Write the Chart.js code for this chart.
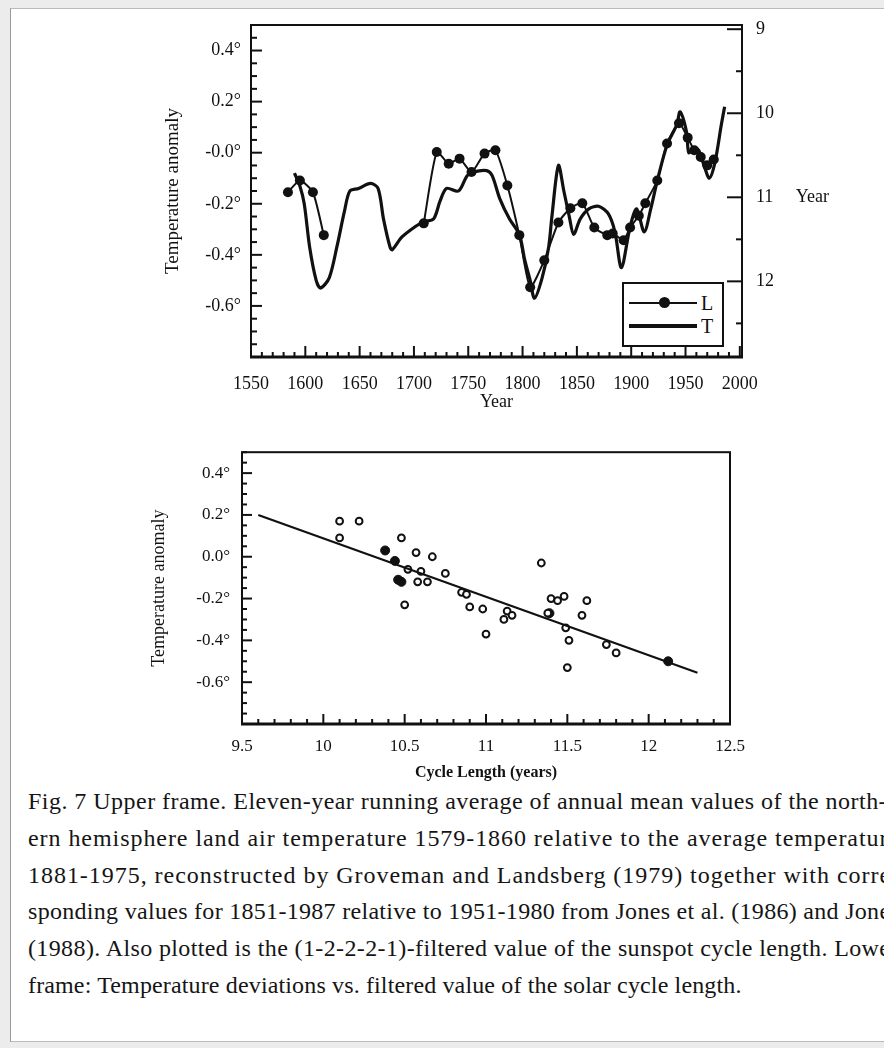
<!DOCTYPE html>
<html><head><meta charset="utf-8">
<script src="https://cdn.jsdelivr.net/npm/chart.js@4.4.0/dist/chart.umd.min.js"></script>
<style>
html,body{margin:0;padding:0;width:884px;height:1048px;overflow:hidden;background:#ececec;}
#page{position:absolute;left:10px;top:8px;width:880px;height:1032px;background:#fff;border-left:1px solid #999;border-top:1px solid #bbb;border-bottom:1px solid #bbb;}
#wrap{position:absolute;left:0;top:0;width:884px;height:1048px;overflow:hidden;}
#c1{position:absolute;left:0;top:0;}
#c2{position:absolute;left:0;top:430px;}
#legend{position:absolute;left:622px;top:282px;width:98px;height:61px;border:2px solid #111;background:#fff;}
.lg-line{position:absolute;background:#111;}
.lg-dot{position:absolute;width:11px;height:11px;border-radius:50%;background:#111;}
.lg-txt{position:absolute;font-family:"Liberation Serif",serif;font-size:20px;color:#111;line-height:20px;}
.capline{position:absolute;left:28px;font-family:"Liberation Serif",serif;font-size:24px;line-height:26px;color:#151515;white-space:nowrap;transform-origin:0 50%;}
</style></head>
<body>
<div id="page"></div>
<div id="wrap">
<canvas id="c1" width="884" height="416"></canvas>
<canvas id="c2" width="884" height="356"></canvas>
<div id="legend">
  <div class="lg-line" style="left:5px;top:18px;width:68px;height:2px;"></div>
  <div class="lg-dot" style="left:35px;top:13px;"></div>
  <div class="lg-txt" style="left:77px;top:9px;">L</div>
  <div class="lg-line" style="left:5px;top:40px;width:68px;height:4px;"></div>
  <div class="lg-txt" style="left:77px;top:32px;">T</div>
</div>
<div id="caption"></div>
</div>
<script>
// ---------- Upper frame data ----------
const tempYears = [1590,1595,1599,1604,1610,1614,1622,1629,1636,1641,1649,1660,1667,1672,1678,1680,1689,1701,1709,1718,1724,1730,1741,1749,1755,1767,1772,1779,1788,1797,1802,1807,1811,1818,1824,1827,1833,1838,1843,1847,1853,1861,1870,1879,1885,1891,1899,1905,1912,1918,1924,1933,1942,1945,1951,1953,1958,1962,1967,1972,1977,1983,1986];
const tempValues = [-0.08,-0.13,-0.20,-0.37,-0.50,-0.53,-0.49,-0.37,-0.23,-0.15,-0.14,-0.12,-0.14,-0.26,-0.37,-0.38,-0.33,-0.29,-0.27,-0.26,-0.19,-0.14,-0.15,-0.09,-0.075,-0.07,-0.09,-0.18,-0.26,-0.32,-0.42,-0.50,-0.57,-0.49,-0.37,-0.25,-0.05,-0.15,-0.25,-0.32,-0.26,-0.22,-0.21,-0.24,-0.31,-0.45,-0.29,-0.22,-0.31,-0.22,-0.11,0.03,0.11,0.16,0.08,0.0,0.02,0.01,-0.05,-0.10,-0.04,0.11,0.18];
const cycleYears = [1584,1595,1607,1617,1660,1709,1721,1732,1742,1753,1765,1775,1786,1797,1807,1820,1833,1844,1855,1866,1878,1883,1893,1899,1907,1913,1924,1933,1944,1952,1958,1964,1970,1976];
const cycleValues = [10.94,10.80,10.94,11.45,null,11.31,10.46,10.60,10.54,10.70,10.48,10.44,10.86,11.45,12.07,11.75,11.30,11.13,11.07,11.36,11.45,11.43,11.51,11.36,11.22,11.07,10.80,10.36,10.12,10.29,10.44,10.52,10.62,10.55];
const yearTicks = [1550,1600,1650,1700,1750,1800,1850,1900,1950,2000];
const upperTempTicks = [0.4,0.2,0.0,-0.2,-0.4,-0.6];
const upperTempLabels = ['0.4°','0.2°','-0.0°','-0.2°','-0.4°','-0.6°'];
const cycleTicks = [9,10,11,12];
const cycleTickLabels = ['9','10','11     Year','12'];

// ---------- Lower frame data ----------
const openLength = [10.10,10.22,10.10,10.48,10.57,10.67,10.52,10.60,10.58,10.64,10.75,10.85,10.88,10.50,10.90,10.98,11.13,11.16,11.11,11.00,11.34,11.40,11.44,11.48,11.62,11.59,11.49,11.51,11.50,11.74,11.80,11.38];
const openTemp   = [0.17,0.17,0.09,0.09,0.02,0.00,-0.06,-0.07,-0.12,-0.12,-0.08,-0.17,-0.18,-0.23,-0.24,-0.25,-0.26,-0.28,-0.30,-0.37,-0.03,-0.20,-0.21,-0.19,-0.21,-0.28,-0.34,-0.40,-0.53,-0.42,-0.46,-0.27];
const filledLength = [10.38,10.44,10.46,10.48,11.39,12.12];
const filledTemp   = [0.03,-0.02,-0.11,-0.12,-0.27,-0.50];
const fitLength = [9.6,12.3];
const fitTemp = [0.20,-0.555];
const lengthTicks = [9.5,10,10.5,11,11.5,12,12.5];
const lengthTickLabels = ['9.5','10','10.5','11','11.5','12','12.5'];
const lowerTempTicks = [0.4,0.2,0.0,-0.2,-0.4,-0.6];
const lowerTempLabels = ['0.4°','0.2°','0.0°','-0.2°','-0.4°','-0.6°'];

const captionLines = [
 'Fig.  7  Upper frame. Eleven-year running average of annual mean values of the north-',
 'ern hemisphere land air temperature 1579-1860 relative to the average temperature',
 '1881-1975, reconstructed by Groveman and Landsberg (1979) together with corre-',
 'sponding values for 1851-1987 relative to 1951-1980 from Jones et al. (1986) and Jones',
 '(1988). Also plotted is the (1-2-2-2-1)-filtered value of the sunspot cycle length. Lower',
 'frame: Temperature deviations vs. filtered value of the solar cycle length.'
];

function range(a,b,step){const r=[];for(let v=a;v<=b+1e-9;v+=step){r.push(Math.round(v*1000)/1000);}return r;}

// plugin: frame + inward tick marks
const innerTicks = {
  id:'innerTicks',
  afterDraw(chart, args, opts){
    const {ctx, chartArea:a} = chart;
    ctx.save();
    ctx.strokeStyle = '#111';
    ctx.lineWidth = 2;
    ctx.strokeRect(a.left, a.top, a.right-a.left, a.bottom-a.top);
    ctx.lineWidth = 3;
    ctx.beginPath(); ctx.moveTo(a.left-1, a.bottom); ctx.lineTo(a.right+1, a.bottom); ctx.stroke();
    for (const spec of (opts.specs||[])){
      const s = chart.scales[spec.id];
      ctx.lineWidth = spec.width || 2;
      const groups = [[spec.minor, spec.minorLen],[spec.major, spec.majorLen]];
      for (const [vals,len] of groups){
        for (const v of vals){
          const p = s.getPixelForValue(v);
          ctx.beginPath();
          if (spec.side==='left'){ctx.moveTo(a.left,p);ctx.lineTo(a.left+len,p);}
          else if (spec.side==='right'){ctx.moveTo(a.right,p);ctx.lineTo(a.right-len,p);}
          else {ctx.moveTo(p,a.bottom);ctx.lineTo(p,a.bottom-len);}
          ctx.stroke();
        }
      }
    }
    ctx.restore();
  }
};

const serif = "'Liberation Serif', serif";
const noGrid = {display:true, drawOnChartArea:false, drawTicks:false};

new Chart(document.getElementById('c1'), {
  type:'line',
  data:{
    datasets:[
      {label:'T', data: tempYears.map((x,i)=>({x, y: tempValues[i]})), yAxisID:'y',
       borderColor:'#111', borderWidth:3.2, pointRadius:0, tension:0.3, fill:false},
      {label:'L', data: cycleYears.map((x,i)=>({x, y: cycleValues[i]})), yAxisID:'yR',
       borderColor:'#111', borderWidth:2, pointRadius:5, pointBackgroundColor:'#111', pointBorderWidth:0,
       tension:0.2, spanGaps:false, fill:false}
    ]
  },
  options:{
    responsive:false, animation:false, events:[],
    layout:{padding:{left:158, right:0, top:25, bottom:0}},
    plugins:{legend:{display:false}, tooltip:{enabled:false},
      innerTicks:{specs:[
        {id:'x', side:'bottom', minor: range(1560,2000,10).filter(v=>v%50!==0), minorLen:5, major: yearTicks, majorLen:11},
        {id:'y', side:'left', minor: range(-0.8,0.5,0.05).filter(v=>Math.abs((v*10)%2)>0.01), minorLen:6, major: upperTempTicks, majorLen:11},
        {id:'yR', side:'right', minor: [9.5,10.5,11.5,12.5], minorLen:6, major: cycleTicks, majorLen:15}
      ]}},
    scales:{
      x:{type:'linear', position:'bottom', min:1550, max:2002,
         afterBuildTicks:s=>{s.ticks = yearTicks.map(v=>({value:v}));},
         afterFit:s=>{s.height=59;},
         grid:noGrid, border:{display:false},
         ticks:{padding:16, color:'#111', font:{family:serif, size:18}, maxRotation:0, autoSkip:false, callback:v=>String(v)},
         title:{display:true, text:'Year', color:'#111', font:{family:serif, size:18}, padding:{top:0,bottom:3}}},
      y:{type:'linear', position:'left', min:-0.8, max:0.5,
         afterBuildTicks:s=>{s.ticks = upperTempTicks.map(v=>({value:v}));},
         afterFit:s=>{s.width=93;},
         grid:noGrid, border:{display:false},
         ticks:{padding:10, color:'#111', font:{family:serif, size:18}, autoSkip:false,
                callback:(v)=>upperTempLabels[upperTempTicks.findIndex(t=>Math.abs(t-v)<1e-6)]},
         title:{display:true, text:'Temperature anomaly', color:'#111', font:{family:serif, size:19}, padding:{top:4,bottom:0}}},
      yR:{type:'linear', position:'right', reverse:true, min:8.95, max:12.9,
         afterBuildTicks:s=>{s.ticks = cycleTicks.map(v=>({value:v}));},
         afterFit:s=>{s.width=142;},
         grid:noGrid, border:{display:false},
         ticks:{padding:14, color:'#111', font:{family:serif, size:18}, autoSkip:false,
                callback:(v)=>cycleTickLabels[cycleTicks.indexOf(v)]}}
    }
  },
  plugins:[innerTicks]
});

new Chart(document.getElementById('c2'), {
  type:'scatter',
  data:{
    datasets:[
      {type:'line', label:'fit', data: fitLength.map((x,i)=>({x, y: fitTemp[i]})),
       borderColor:'#111', borderWidth:2.2, pointRadius:0, fill:false},
      {label:'open', data: openLength.map((x,i)=>({x, y: openTemp[i]})),
       pointRadius:3.4, pointBorderWidth:2, pointBorderColor:'#111', pointBackgroundColor:'#fff', pointStyle:'circle'},
      {label:'filled', data: filledLength.map((x,i)=>({x, y: filledTemp[i]})),
       pointRadius:4.5, pointBorderWidth:1, pointBorderColor:'#111', pointBackgroundColor:'#111', pointStyle:'circle'}
    ]
  },
  options:{
    responsive:false, animation:false, events:[],
    layout:{padding:{left:144, right:154, top:15, bottom:0}},
    plugins:{legend:{display:false}, tooltip:{enabled:false},
      innerTicks:{specs:[
        {id:'x', side:'bottom', minor: range(9.6,12.4,0.1).filter(v=>Math.abs((v*10)%5)>0.01), minorLen:5, major: lengthTicks, majorLen:10},
        {id:'y', side:'left', minor: range(-0.8,0.5,0.05).filter(v=>Math.abs((v*10)%2)>0.01), minorLen:5, major: lowerTempTicks, majorLen:10}
      ]}},
    scales:{
      x:{type:'linear', position:'bottom', min:9.5, max:12.5,
         afterBuildTicks:s=>{s.ticks = lengthTicks.map(v=>({value:v}));},
         afterFit:s=>{s.height=62;},
         grid:noGrid, border:{display:false},
         ticks:{padding:12, color:'#111', font:{family:serif, size:17}, maxRotation:0, autoSkip:false,
                callback:(v)=>lengthTickLabels[lengthTicks.indexOf(v)]},
         title:{display:true, text:'Cycle Length (years)', color:'#111', font:{family:serif, size:16, weight:'bold'}, padding:{top:0,bottom:4}}},
      y:{type:'linear', position:'left', min:-0.8, max:0.5,
         afterBuildTicks:s=>{s.ticks = lowerTempTicks.map(v=>({value:v}));},
         afterFit:s=>{s.width=98;},
         grid:noGrid, border:{display:false},
         ticks:{padding:12, color:'#111', font:{family:serif, size:17}, autoSkip:false,
                callback:(v)=>lowerTempLabels[lowerTempTicks.findIndex(t=>Math.abs(t-v)<1e-6)]},
         title:{display:true, text:'Temperature anomaly', color:'#111', font:{family:serif, size:18}, padding:{top:4,bottom:0}}}
    }
  },
  plugins:[innerTicks]
});

// caption
(function(){
  const cap = document.getElementById('caption');
  const mctx = document.createElement('canvas').getContext('2d');
  mctx.font = "24px 'Liberation Serif'";
  const targets = [872,872,872,872,872,714];
  captionLines.forEach((t,i)=>{
    const d = document.createElement('div');
    d.className = 'capline';
    d.textContent = t;
    d.style.top = (788 + i*36.8) + 'px';
    const w = mctx.measureText(t).width;
    if (w <= targets[i]) d.style.letterSpacing = ((targets[i]-w)/t.length) + 'px';
    else d.style.transform = 'scaleX(' + (targets[i]/w) + ')';
    cap.appendChild(d);
  });
})();
</script>
</body></html>
